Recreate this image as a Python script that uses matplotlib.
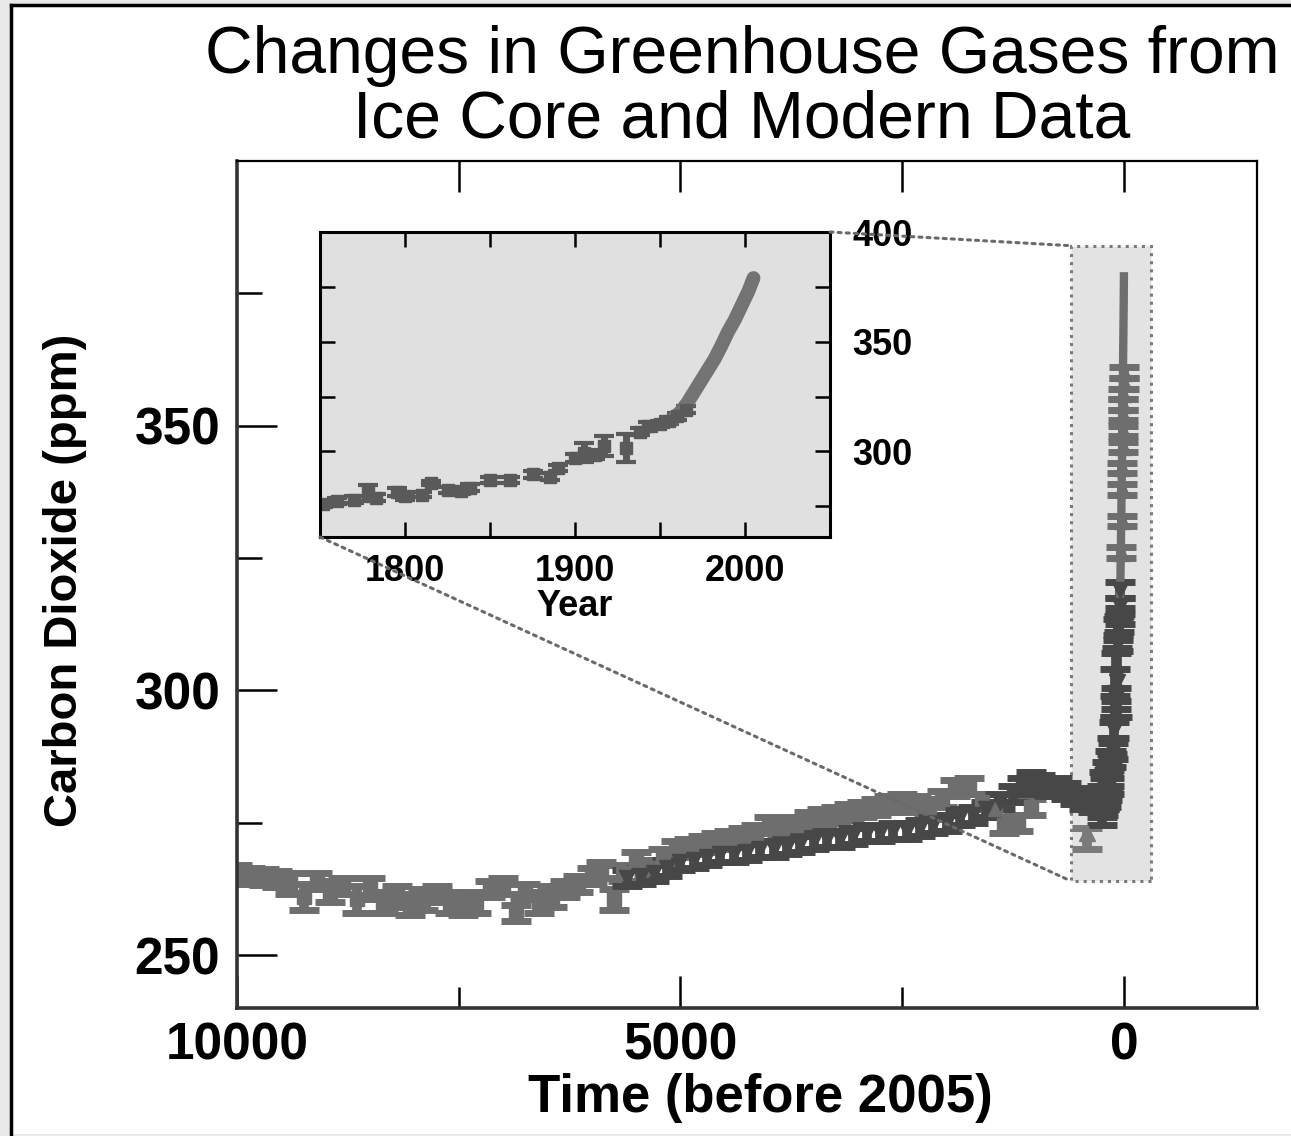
import matplotlib
matplotlib.use("Agg")
import matplotlib.pyplot as plt
from matplotlib.patches import Rectangle, ConnectionPatch
from matplotlib.lines import Line2D

plt.rcParams["font.family"] = ["Liberation Sans", "DejaVu Sans"]
plt.rcParams["font.weight"] = "bold"

# ---- data ----
# older ice core record, years before 2005 (medium grey)
old_t = [10000, 9850, 9700, 9550, 9400, 9250, 9100, 8950, 8800, 8650, 8500, 8350, 8200, 8050,
         7900, 7750, 7600, 7450, 7300, 7150, 7000, 6850, 6750, 6600, 6450, 6300, 6150, 6000,
         5900, 5750, 5650, 5500, 5350, 5200, 5050, 4900, 4750, 4600, 4450, 4300, 4150, 4000,
         3850, 3700, 3550, 3400, 3250, 3100, 2950, 2800, 2650, 2500, 2350, 2200, 2050, 1900,
         1750, 1600, 1450, 1350, 1200, 1050]
old_co2 = [265.5, 265.0, 264.8, 264.3, 263.5, 261.0, 264.0, 262.0, 263.0, 260.5, 262.5, 260.0, 261.0, 259.5,
           260.5, 261.5, 260.0, 259.5, 260.0, 262.5, 263.0, 258.0, 262.0, 260.0, 261.0, 262.5, 263.5, 265.0,
           266.0, 260.5, 265.5, 268.0, 266.5, 268.5, 270.0, 270.5, 271.0, 271.5, 272.0, 272.5, 273.0, 274.5,
           274.0, 274.5, 275.5, 276.0, 276.5, 277.0, 277.5, 278.0, 278.5, 279.0, 278.5, 278.0, 279.5, 281.5,
           282.0, 279.0, 277.5, 274.5, 275.0, 278.0]
old_err = [1.5, 1.5, 1.5, 1.5, 2.0, 2.5, 1.5, 2.0, 1.5, 2.5, 2.0, 2.0, 2.0, 2.0,
           2.0, 1.5, 2.0, 2.0, 2.0, 1.5, 1.5, 1.5, 1.5, 2.0, 2.0, 1.5, 1.5, 1.5,
           1.5, 2.0, 1.5, 1.5, 1.5, 1.5, 1.5, 1.5, 1.5, 1.5, 1.5, 1.5, 1.5, 1.5,
           1.5, 1.5, 1.5, 1.5, 1.5, 1.5, 1.5, 1.5, 1.5, 1.5, 1.5, 1.5, 1.5, 1.5,
           1.5, 1.5, 1.5, 1.5, 1.5, 1.5]

# second ice core record (dark grey)
law_t = [5600, 5450, 5300, 5150, 5000, 4850, 4700, 4550, 4400, 4250, 4100, 3950, 3800, 3650,
         3500, 3350, 3200, 3050, 2900, 2750, 2600, 2450, 2300, 2150, 2000, 1850, 1700, 1550,
         1400, 1250, 1150, 1050, 950, 850, 750, 650, 550, 450, 350, 300, 250]
law_co2 = [264.5, 265.0, 265.5, 266.5, 267.5, 268.0, 268.5, 269.0, 269.0, 269.5, 270.0, 270.0, 270.5, 271.0,
           271.5, 272.0, 272.0, 272.5, 273.0, 273.0, 273.5, 273.5, 274.0, 274.5, 275.0, 276.0, 276.5, 277.5,
           279.0, 280.5, 282.0, 283.0, 282.5, 281.5, 282.0, 281.0, 280.0, 279.0, 278.5, 279.5, 280.5]

# single low point near the bend
low_t = [420]
low_co2 = [273.0]

# recent ice core points, calendar years (inset and main plot)
ice_year = [1752, 1760, 1770, 1778, 1783, 1795, 1800, 1810, 1815, 1825, 1833, 1838, 1850, 1862,
            1875, 1885, 1890, 1900, 1905, 1912, 1917, 1930, 1938, 1943, 1950, 1955, 1960, 1965]
ice_co2 = [276.0, 277.5, 278.0, 281.0, 279.0, 281.5, 279.5, 280.3, 285.5, 282.5, 282.0, 283.5, 287.0, 287.0,
           289.5, 288.5, 292.5, 297.0, 299.5, 298.5, 302.5, 301.5, 309.0, 311.5, 312.5, 314.0, 316.0, 319.0]
ice_err = [1.5, 1.5, 1.5, 3.5, 1.5, 2.0, 1.5, 1.0, 1.0, 1.5, 1.5, 1.5, 1.5, 1.5,
           1.5, 1.5, 1.5, 2.0, 4.5, 2.0, 4.5, 6.5, 1.5, 2.0, 1.5, 1.5, 1.5, 1.5]

# atmospheric record, calendar years
air_year = [1958, 1962, 1966, 1970, 1974, 1978, 1982, 1986, 1990, 1994, 1998, 2002, 2005]
air_co2 = [315.0, 318.0, 322.0, 327.0, 332.0, 337.0, 342.0, 348.0, 354.5, 360.0, 366.5, 373.0, 379.0]

# firn / station points shown as triangles in the main column, years before 2005
firn_t = [3, 5, 7, 9, 11, 13, 16, 19, 22, 25, 28]
firn_co2 = [360.0, 358.0, 356.0, 354.0, 352.0, 349.0, 346.0, 342.0, 338.0, 332.0, 326.0]

W, H = 1291, 1136
MED = "#6e6e6e"
DARK = "#474747"

fig = plt.figure(figsize=(W / 100, H / 100), dpi=100)
fig.patch.set_facecolor("#e9e9e9")
fig.patches.append(Rectangle((11 / W, 2 / H), 1 - 11 / W, 1 - 7 / H, transform=fig.transFigure,
                             facecolor="white", edgecolor="none", zorder=-10))
fig.add_artist(Line2D([11 / W, 11 / W], [2 / H, 1 - 5 / H], color="black", lw=2.5))
fig.add_artist(Line2D([11 / W, 1], [1 - 5 / H, 1 - 5 / H], color="black", lw=2.5))

# ---- main axes ----
ax = fig.add_axes([237 / W, (H - 1008) / H, (1257 - 237) / W, (1008 - 161) / H])
ax.set_xlim(10000, -1500)
ax.set_ylim(240, 400)

ax.add_patch(Rectangle((-300, 264), 900, 120, facecolor="#e3e3e3", edgecolor="#7a7a7a",
                       linestyle=":", lw=2.2, zorder=0.5))

eb = dict(elinewidth=7, capsize=11, capthick=5, ls="none")
ax.errorbar(old_t, old_co2, yerr=old_err, fmt="s", ms=10, color=MED, **eb)
ax.errorbar(law_t, law_co2, yerr=1.5, fmt="v", ms=12, color=DARK, **eb)
ax.errorbar(low_t, low_co2, yerr=[[3.0], [1.0]], fmt="^", ms=12, color="#7a7a7a", **eb)
ice_t = [2005 - y for y in ice_year]
ax.errorbar(ice_t, ice_co2, yerr=ice_err, fmt="v", ms=12, color=DARK, **eb)
ax.errorbar(firn_t, firn_co2, yerr=1.0, fmt="^", ms=12, color=MED, **eb)
ax.plot([2005 - y for y in air_year], air_co2, color=MED, lw=6, solid_capstyle="butt")

ax.set_xticks([10000, 5000, 0])
ax.set_xticklabels(["10000", "5000", "0"])
ax.set_xticks([7500, 2500], minor=True)
ax.set_yticks([250, 300, 350])
ax.set_yticks([275, 325, 375], minor=True)
ax.tick_params(axis="both", which="both", direction="in", width=1.8, labelsize=37,
               top=False, right=False)
ax.tick_params(axis="y", which="major", length=29, pad=12)
ax.tick_params(axis="y", which="minor", length=18)
ax.tick_params(axis="x", which="major", length=23, pad=10)
ax.tick_params(axis="x", which="minor", length=15)
top = ax.secondary_xaxis("top")
top.set_xticks([7500, 5000, 2500, 0])
top.tick_params(direction="in", length=22, width=1.8, labeltop=False)
top.spines["top"].set_visible(False)
for s in ["left", "bottom"]:
    ax.spines[s].set_linewidth(2.6)
    ax.spines[s].set_color("#333333")
for s in ["top", "right"]:
    ax.spines[s].set_linewidth(1.6)

fig.text(742 / W, 1 - 73 / H, "Changes in Greenhouse Gases from", ha="center", va="baseline",
         fontsize=47.5, fontweight="normal")
fig.text(742 / W, 1 - 138 / H, "Ice Core and Modern Data", ha="center", va="baseline",
         fontsize=47.5, fontweight="normal")
fig.text(65 / W, 1 - 580 / H, "Carbon Dioxide (ppm)", rotation=90, ha="center", va="center",
         fontsize=34)
fig.text(760 / W, 1 - 1098 / H, "Time (before 2005)", ha="center", va="center", fontsize=38)

# ---- inset ----
axin = fig.add_axes([320 / W, (H - 537) / H, 510 / W, 305 / H])
axin.set_facecolor("#e0e0e0")
axin.set_xlim(1750, 2050)
axin.set_ylim(261, 400)
axin.errorbar(ice_year, ice_co2, yerr=ice_err, fmt="s", ms=9, color="#5a5a5a",
              elinewidth=5, capsize=7, capthick=3, ls="none")
axin.plot(air_year, air_co2, color="#737373", lw=10, solid_capstyle="round")
axin.set_xticks([1800, 1900, 2000])
axin.set_xticks([1850, 1950], minor=True)
axin.set_yticks([300, 350, 400])
axin.set_yticks([275, 325, 375], minor=True)
axin.yaxis.tick_right()
axin.tick_params(axis="both", which="both", direction="in", length=11, width=1.8,
                 top=True, bottom=True, left=True, right=True, labelsize=26)
axin.tick_params(axis="y", pad=16)
axin.tick_params(axis="x", pad=12)
axin.set_xlabel("Year", fontsize=26, fontweight="bold", labelpad=0)
for s in axin.spines.values():
    s.set_linewidth(2.2)

# dotted zoom lines
for xyA, xyB in [((1, 1), (600, 384)), ((0, 0), (600, 264))]:
    fig.add_artist(ConnectionPatch(xyA=xyA, coordsA=axin.transAxes, xyB=xyB, coordsB=ax.transData,
                                   linestyle=":", color="#6a6a6a", lw=2.2))

fig.savefig("out.png", dpi=100, facecolor=fig.get_facecolor())
